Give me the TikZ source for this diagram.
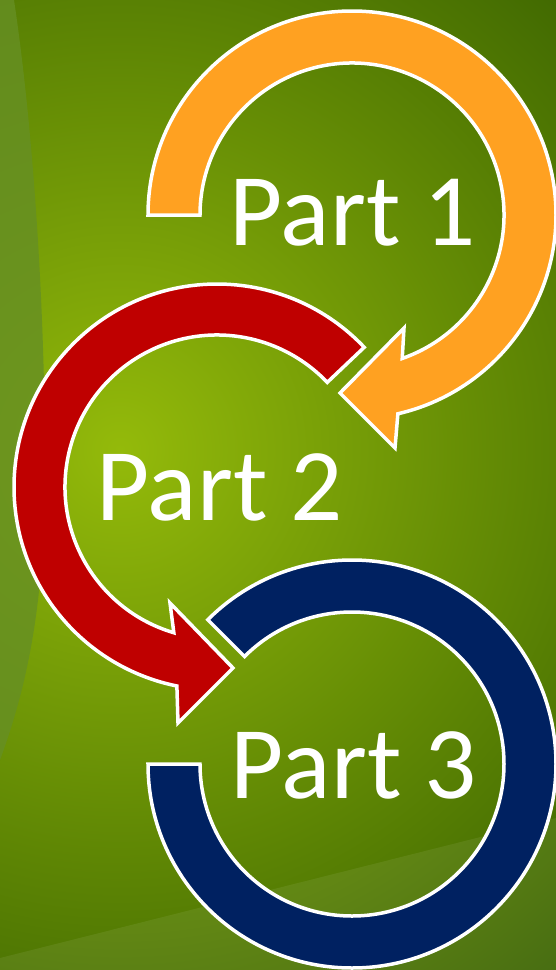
\documentclass[tikz,border=0pt]{standalone}
\usepackage{fontspec}
\setmainfont{Carlito}

\definecolor{partorange}{rgb}{1.00, 0.63, 0.13}
\definecolor{partred}{rgb}{0.75, 0.00, 0.00}
\definecolor{partblue}{rgb}{0.00, 0.13, 0.38}
\definecolor{bglight}{rgb}{0.58, 0.73, 0.04}
\definecolor{bgdark}{rgb}{0.22, 0.38, 0.00}
\definecolor{bgband}{rgb}{0.40, 0.56, 0.14}

\begin{document}
\begin{tikzpicture}[x=1pt,y=1pt,yscale=-1,xscale=1,
		ring/.style={draw=white, line width=3.5pt, line join=miter},
		partlabel/.style={text=white, anchor=base, inner sep=0pt, font=\fontsize{103}{103}\selectfont}]
		\useasboundingbox (0,0) rectangle (556,970);

		% Background: green gradient, lightest at the left middle
		\begin{scope}
		\clip (0,0) rectangle (556,970);
		\shade[inner color=bglight, outer color=bgdark] (120,450) circle (700);

		% Darker band on the left edge
		\fill[bgband, opacity=0.8] (0,0) -- (14,0) .. controls (38,160) and (48,380) .. (44,520) .. controls (40,630) and (22,700) .. (0,760) -- cycle;

		% Lighter swoosh along the bottom
		\fill[white, opacity=0.07] (0,958) -- (556,818) -- (556,970) -- (0,970) -- cycle;
		\end{scope}

		% Orange arrow round Part 1 (clockwise, head at lower left)
		\filldraw[ring, fill=partorange] (352,215) ++(180:204) arc[start angle=180, end angle=437, radius=204]
		-- (395,448) -- (340,393) -- (404,328)
		-- ([shift={(430.7:152)}]352,215) arc[start angle=430.7, end angle=180, radius=152] -- cycle;

		% Red arrow round Part 2 (counter-clockwise, head at lower right)
		\filldraw[ring, fill=partred] (217,487) ++(316.5:203) arc[start angle=316.5, end angle=101.4, radius=203]
		-- (178,723) -- (233,668) -- (170,603)
		-- ([shift={(106.5:152)}]217,487) arc[start angle=106.5, end angle=316.5, radius=152] -- cycle;

		% Blue open ring round Part 3
		\filldraw[ring, fill=partblue] (352,764) ++(180:204) arc[start angle=180, end angle=-135, radius=204]
		-- ([shift={(-135:152)}]352,764) arc[start angle=-135, end angle=180, radius=152] -- cycle;

		% The labels
		\node[partlabel] (part1) at (353,245) {Part 1};
		\node[partlabel] (part2) at (220,520) {Part 2};
		\node[partlabel] (part3) at (354,798) {Part 3};
	\end{tikzpicture}
\end{document}
